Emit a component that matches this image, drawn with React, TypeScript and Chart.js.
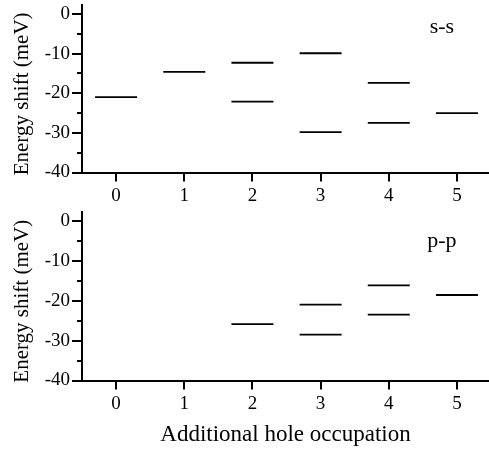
import React, { useEffect, useRef } from 'react';
import { Chart, registerables } from 'chart.js';

Chart.register(...registerables);

const FONT_FAMILY = '"Liberation Serif", "Times New Roman", Times, serif';

// Data
const occupation = [0, 1, 2, 3, 4, 5];
const ssUpper: (number | null)[] = [-21.0, -14.6, -12.3, -9.9, -17.4, -25.0];
const ssLower: (number | null)[] = [null, null, -22.1, -29.8, -27.5, null];
const ppUpper: (number | null)[] = [null, null, -25.9, -21.0, -16.2, -18.6];
const ppLower: (number | null)[] = [null, null, null, -28.5, -23.5, null];
const yMajorTicks = [-40, -30, -20, -10, 0];
const yMinorTicks = [-35, -25, -15, -5];
const xTickValues = [0, 1, 2, 3, 4, 5];
const yTitle = 'Energy shift (meV)';
const xTitle = 'Additional hole occupation';

function toPoints(values: (number | null)[]) {
  return occupation.flatMap((x, i) => (values[i] == null ? [] : [{ x, y: values[i] as number }]));
}

const panelPlugin = {
  id: 'panelDecor',
  afterDraw(chart: any, _args: any, opts: any) {
    const { ctx, chartArea, scales } = chart;
    const y = scales.y;
    const x = scales.x;
    ctx.save();
    ctx.strokeStyle = '#000';
    ctx.lineWidth = 2;
    yMinorTicks.forEach((v) => {
      const py = Math.round(y.getPixelForValue(v));
      ctx.beginPath();
      ctx.moveTo(chartArea.left - 5, py);
      ctx.lineTo(chartArea.left, py);
      ctx.stroke();
    });
    ctx.restore();

    ctx.save();
    ctx.fillStyle = '#000';
    ctx.font = `21px ${FONT_FAMILY}`;
    ctx.textAlign = 'center';
    ctx.textBaseline = 'middle';
    ctx.translate(opts.titleX, (chartArea.top + chartArea.bottom) / 2 + opts.titleShift);
    ctx.rotate(-Math.PI / 2);
    ctx.fillText(yTitle, 0, 0);
    ctx.restore();

    ctx.save();
    ctx.fillStyle = '#000';
    ctx.font = `22px ${FONT_FAMILY}`;
    ctx.textAlign = 'center';
    ctx.textBaseline = 'alphabetic';
    ctx.fillText(opts.label, x.getPixelForValue(opts.labelX), y.getPixelForValue(opts.labelY));
    ctx.restore();
  },
};

type PanelProps = {
  upper: (number | null)[];
  lower: (number | null)[];
  label: string;
  labelY: number;
  top: number;
  height: number;
  padTop: number;
  xAxisHeight: number;
  showXTitle: boolean;
};

function Panel(props: PanelProps) {
  const ref = useRef<HTMLCanvasElement | null>(null);
  useEffect(() => {
    if (!ref.current) return;
    const pointStyle = {
      pointStyle: 'line' as const,
      pointRadius: 21,
      pointHoverRadius: 21,
      pointBorderWidth: 1.8,
      pointHoverBorderWidth: 1.8,
      pointBorderColor: '#000',
      pointBackgroundColor: '#000',
      showLine: false,
    };
    const chart = new Chart(ref.current, {
      type: 'scatter',
      data: {
        datasets: [
          { label: 'upper', data: toPoints(props.upper), ...pointStyle },
          { label: 'lower', data: toPoints(props.lower), ...pointStyle },
        ],
      },
      options: {
        responsive: false,
        animation: false,
        devicePixelRatio: 1,
        events: [],
        layout: { autoPadding: false, padding: { top: props.padTop, left: 0, right: 0, bottom: 0 } },
        plugins: {
          legend: { display: false },
          tooltip: { enabled: false },
          panelDecor: {
            titleX: 22,
            titleShift: 5,
            label: props.label,
            labelX: 4.78,
            labelY: props.labelY,
          },
        } as any,
        scales: {
          x: {
            type: 'linear',
            min: -0.5,
            max: 5.47,
            afterBuildTicks: (s: any) => {
              s.ticks = xTickValues.map((v) => ({ value: v }));
            },
            afterFit: (s: any) => {
              s.height = props.xAxisHeight;
              s.paddingLeft = 0;
              s.paddingRight = 0;
            },
            ticks: {
              color: '#000',
              font: { family: FONT_FAMILY, size: 19 },
              padding: 3,
              maxRotation: 0,
              autoSkip: false,
              callback: (v: any) => String(v),
            },
            grid: {
              display: true,
              drawOnChartArea: false,
              drawTicks: true,
              tickLength: 9,
              color: '#000',
              lineWidth: 2,
            },
            border: { display: true, color: '#000', width: 2 },
            title: {
              display: props.showXTitle,
              text: xTitle,
              color: '#000',
              font: { family: FONT_FAMILY, size: 23 },
              padding: { top: 0, bottom: 4 },
            },
          },
          y: {
            type: 'linear',
            min: -40,
            max: 2.2,
            afterBuildTicks: (s: any) => {
              s.ticks = yMajorTicks.map((v) => ({ value: v }));
            },
            afterFit: (s: any) => {
              s.width = 82;
              s.paddingTop = 0;
              s.paddingBottom = 0;
            },
            ticks: {
              color: '#000',
              font: { family: FONT_FAMILY, size: 19 },
              padding: 2,
              autoSkip: false,
              callback: (v: any) => String(v),
            },
            grid: {
              display: true,
              drawOnChartArea: false,
              drawTicks: true,
              tickLength: 10,
              color: '#000',
              lineWidth: 2,
            },
            border: { display: true, color: '#000', width: 2 },
            title: { display: false },
          },
        },
      },
      plugins: [panelPlugin],
    });
    return () => chart.destroy();
  }, []);
  return (
    <canvas
      ref={ref}
      width={489}
      height={props.height}
      style={{ position: 'absolute', left: 0, top: props.top, display: 'block', width: 489, height: props.height }}
    />
  );
}

export default function App() {
  return (
    <div style={{ position: 'absolute', left: 0, top: 0, width: 489, height: 453, background: '#fff' }}>
      <Panel
        upper={ssUpper}
        lower={ssLower}
        label="s-s"
        labelY={-4.9}
        top={0}
        height={212}
        padTop={5.3}
        xAxisHeight={39.5}
        showXTitle={false}
      />
      <Panel
        upper={ppUpper}
        lower={ppLower}
        label="p-p"
        labelY={-6.6}
        top={200}
        height={253}
        padTop={11.9}
        xAxisHeight={72.5}
        showXTitle={true}
      />
    </div>
  );
}
